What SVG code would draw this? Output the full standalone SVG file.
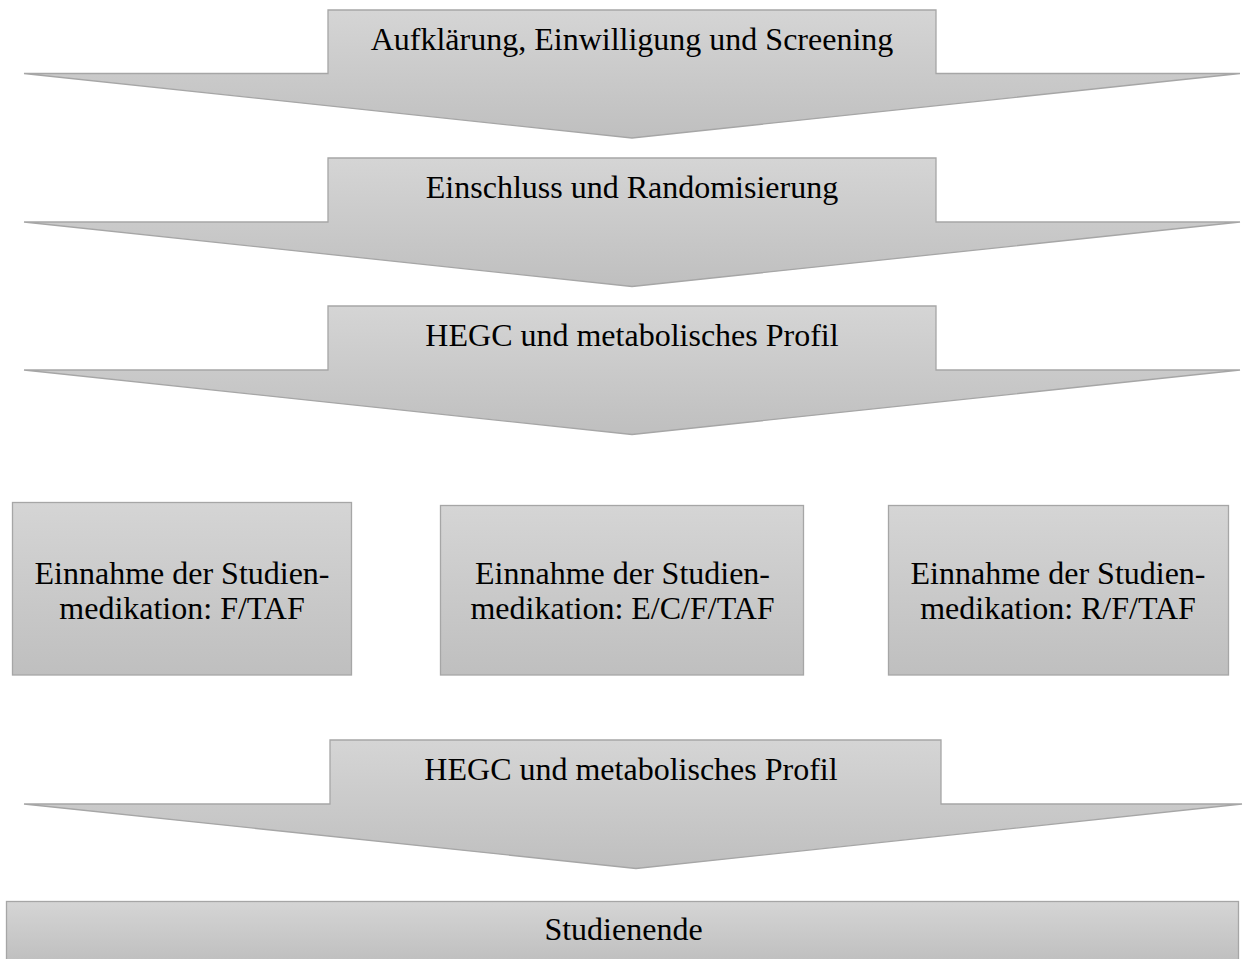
<svg xmlns="http://www.w3.org/2000/svg" width="1244" height="959" viewBox="0 0 1244 959">
<defs>
<linearGradient id="g" x1="0" y1="0" x2="0" y2="1">
<stop offset="0" stop-color="#d5d5d5"/>
<stop offset="1" stop-color="#bfbfbf"/>
</linearGradient>
<style>
.s{fill:url(#g);stroke:#a6a6a6;stroke-width:1.3}
.t{font-family:"Liberation Serif","Times New Roman",serif;font-size:32px;fill:#000;text-anchor:middle}
</style>
</defs>
<rect width="1244" height="959" fill="#fff"/>
<g id="connectors">
<g id="arrow1"><path class="s" d="M328 10H936V73.5H1240L632 138L24 73.5H328Z"/><text class="t" x="632" y="49.5">Aufklärung, Einwilligung und Screening</text></g>
<g id="arrow2"><path class="s" d="M328 158H936V222H1240L632 286.5L24 222H328Z"/><text class="t" x="632" y="197.5">Einschluss und Randomisierung</text></g>
<g id="arrow3"><path class="s" d="M328 306H936V370H1240L632 434.5L24 370H328Z"/><text class="t" x="632" y="345.5">HEGC und metabolisches Profil</text></g>
<g id="arrow4"><path class="s" d="M330 740H941V804H1242L636 868.5L24 804H330Z"/><text class="t" x="631" y="779.5">HEGC und metabolisches Profil</text></g>
</g>
<g id="box1"><rect class="s" x="12.5" y="502.5" width="339" height="172.5"/><text class="t" x="182" y="583.5">Einnahme der Studien-</text><text class="t" x="182" y="618.5">medikation: F/TAF</text></g>
<g id="box2"><rect class="s" x="440.5" y="505.5" width="363" height="169.5"/><text class="t" x="622.5" y="583.5">Einnahme der Studien-</text><text class="t" x="622.5" y="618.5">medikation: E/C/F/TAF</text></g>
<g id="box3"><rect class="s" x="888.5" y="505.5" width="340" height="169.5"/><text class="t" x="1058" y="583.5">Einnahme der Studien-</text><text class="t" x="1058" y="618.5">medikation: R/F/TAF</text></g>
<g id="end"><rect class="s" x="6.5" y="901.5" width="1232" height="60"/><text class="t" x="623.5" y="939.5">Studienende</text></g>
</svg>
